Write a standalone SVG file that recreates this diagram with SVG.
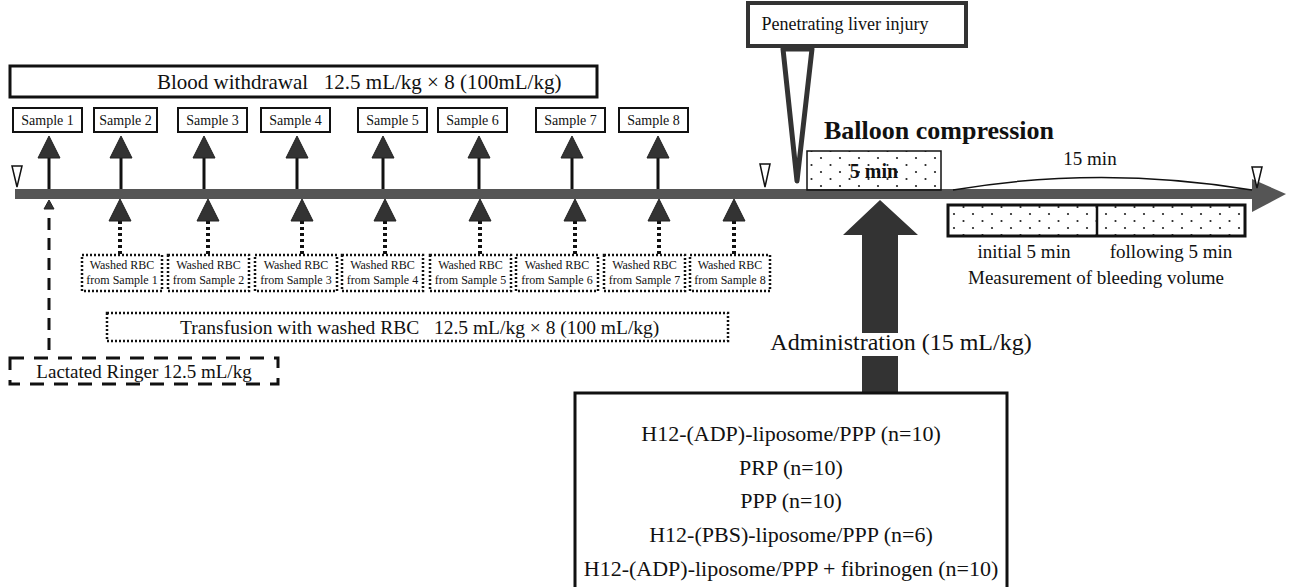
<svg xmlns="http://www.w3.org/2000/svg" width="1289" height="587" viewBox="0 0 1289 587">
<defs>
<pattern id="dots" patternUnits="userSpaceOnUse" width="19" height="14"><circle cx="4" cy="4" r="1.1" fill="#222"/><circle cx="13.5" cy="11" r="1.1" fill="#222"/></pattern>
</defs>
<style>
text{font-family:"Liberation Serif","Times New Roman",serif;fill:#111}
.box{fill:#fff;stroke:#111;stroke-width:2}
.dotbox{fill:#fff;stroke:#111;stroke-width:2.5;stroke-dasharray:2 2}
.head{fill:#333;stroke:#222;stroke-width:1}
.stem{stroke:#111;stroke-width:3}
.dstem{stroke:#111;stroke-width:4;stroke-dasharray:3 3}
.hollow{fill:#fff;stroke:#111;stroke-width:1.5}
.s{font-size:14px}
.w{font-size:12px}
.c{text-anchor:middle}
.g{font-size:22px}
</style>
<rect width="1289" height="587" fill="#fff"/>

<g id="connectors">
  <rect x="15" y="189" width="1239" height="10" fill="#555"/>
  <polygon points="1252,179 1286,194 1252,212" fill="#555"/>
  <g class="stem">
    <line x1="49" y1="157" x2="49" y2="189"/><line x1="121" y1="157" x2="121" y2="189"/>
    <line x1="204" y1="157" x2="204" y2="189"/><line x1="297" y1="157" x2="297" y2="189"/>
    <line x1="383" y1="157" x2="383" y2="189"/><line x1="479" y1="157" x2="479" y2="189"/>
    <line x1="572" y1="157" x2="572" y2="189"/><line x1="658" y1="157" x2="658" y2="189"/>
  </g>
  <g class="head">
    <polygon points="49,136 38,158 60,158"/><polygon points="121,136 110,158 132,158"/>
    <polygon points="204,136 193,158 215,158"/><polygon points="297,136 286,158 308,158"/>
    <polygon points="383,136 372,158 394,158"/><polygon points="479,136 468,158 490,158"/>
    <polygon points="572,136 561,158 583,158"/><polygon points="658,136 647,158 669,158"/>
  </g>
  <g class="dstem">
    <line x1="120" y1="221" x2="120" y2="255"/><line x1="208" y1="221" x2="208" y2="255"/>
    <line x1="302" y1="221" x2="302" y2="255"/><line x1="385" y1="221" x2="385" y2="255"/>
    <line x1="480" y1="221" x2="480" y2="255"/><line x1="575" y1="221" x2="575" y2="255"/>
    <line x1="659" y1="221" x2="659" y2="255"/><line x1="734" y1="221" x2="734" y2="255"/>
  </g>
  <g class="head">
    <polygon points="120,199 109,221 131,221"/><polygon points="208,199 197,221 219,221"/>
    <polygon points="302,199 291,221 313,221"/><polygon points="385,199 374,221 396,221"/>
    <polygon points="480,199 469,221 491,221"/><polygon points="575,199 564,221 586,221"/>
    <polygon points="659,199 648,221 670,221"/><polygon points="734,199 723,221 745,221"/>
    <polygon points="49,200 44,209 54,209"/>
  </g>
  <line x1="49" y1="218" x2="49" y2="358" stroke="#111" stroke-width="3" stroke-dasharray="12 8"/>
  <polygon class="hollow" points="12,166 22,166 17,187"/>
  <polygon class="hollow" points="760,164 770,164 765,187"/>
  <polygon class="hollow" points="1252,167 1262,167 1257,188"/>
  <polygon points="783,49 812,49 797,181" fill="#fff" stroke="#333" stroke-width="5" stroke-linejoin="round"/>
  <path d="M953,190 Q1100,165 1252,190" fill="none" stroke="#111" stroke-width="1.5"/>
  <polygon points="880,200 918,235 898,235 898,333 862,333 862,235 843,235" fill="#333"/>
  <rect x="862" y="356" width="36" height="37" fill="#333"/>
</g>

<g id="liver-injury">
  <rect x="748" y="3" width="218" height="43" fill="#fff" stroke="#333" stroke-width="4"/>
  <text x="845" y="30" class="c" style="font-size:18px">Penetrating liver injury</text>
</g>

<g id="blood-withdrawal">
  <rect x="10" y="66" width="587" height="31" fill="#fff" stroke="#111" stroke-width="3"/>
  <text x="157" y="89" style="font-size:21px" xml:space="preserve">Blood withdrawal   12.5 mL/kg × 8 (100mL/kg)</text>
</g>

<g id="samples">
  <g id="sample-1"><rect class="box" x="13" y="108" width="69" height="24"/><text class="s c" x="47.5" y="125">Sample 1</text></g>
  <g id="sample-2"><rect class="box" x="94" y="108" width="63" height="24"/><text class="s c" x="125.5" y="125">Sample 2</text></g>
  <g id="sample-3"><rect class="box" x="178" y="108" width="69" height="24"/><text class="s c" x="212.5" y="125">Sample 3</text></g>
  <g id="sample-4"><rect class="box" x="261" y="108" width="69" height="24"/><text class="s c" x="295.5" y="125">Sample 4</text></g>
  <g id="sample-5"><rect class="box" x="358" y="108" width="69" height="24"/><text class="s c" x="392.5" y="125">Sample 5</text></g>
  <g id="sample-6"><rect class="box" x="438" y="108" width="69" height="24"/><text class="s c" x="472.5" y="125">Sample 6</text></g>
  <g id="sample-7"><rect class="box" x="536" y="108" width="69" height="24"/><text class="s c" x="570.5" y="125">Sample 7</text></g>
  <g id="sample-8"><rect class="box" x="619" y="108" width="69" height="24"/><text class="s c" x="653.5" y="125">Sample 8</text></g>
</g>

<g id="washed">
  <g id="washed-1"><rect class="dotbox" x="82" y="255" width="80" height="36"/><text class="w c" x="122" y="269">Washed RBC</text><text class="w c" x="122" y="284">from Sample 1</text></g>
  <g id="washed-2"><rect class="dotbox" x="168" y="255" width="81" height="36"/><text class="w c" x="208.5" y="269">Washed RBC</text><text class="w c" x="208.5" y="284">from Sample 2</text></g>
  <g id="washed-3"><rect class="dotbox" x="255" y="255" width="82" height="36"/><text class="w c" x="296" y="269">Washed RBC</text><text class="w c" x="296" y="284">from Sample 3</text></g>
  <g id="washed-4"><rect class="dotbox" x="342" y="255" width="81" height="36"/><text class="w c" x="382.5" y="269">Washed RBC</text><text class="w c" x="382.5" y="284">from Sample 4</text></g>
  <g id="washed-5"><rect class="dotbox" x="430" y="255" width="81" height="36"/><text class="w c" x="470.5" y="269">Washed RBC</text><text class="w c" x="470.5" y="284">from Sample 5</text></g>
  <g id="washed-6"><rect class="dotbox" x="516" y="255" width="82" height="36"/><text class="w c" x="557" y="269">Washed RBC</text><text class="w c" x="557" y="284">from Sample 6</text></g>
  <g id="washed-7"><rect class="dotbox" x="604" y="255" width="81" height="36"/><text class="w c" x="644.5" y="269">Washed RBC</text><text class="w c" x="644.5" y="284">from Sample 7</text></g>
  <g id="washed-8"><rect class="dotbox" x="690" y="255" width="80" height="36"/><text class="w c" x="730" y="269">Washed RBC</text><text class="w c" x="730" y="284">from Sample 8</text></g>
</g>

<g id="transfusion">
  <rect class="dotbox" x="107" y="313" width="621" height="28"/>
  <text x="180" y="334" style="font-size:19.5px" xml:space="preserve">Transfusion with washed RBC   12.5 mL/kg × 8 (100 mL/kg)</text>
</g>

<g id="lactated-ringer">
  <rect x="10" y="358" width="268" height="26" fill="none" stroke="#111" stroke-width="3" stroke-dasharray="14 10"/>
  <text x="144" y="378" class="c" style="font-size:19px">Lactated Ringer 12.5 mL/kg</text>
</g>

<g id="balloon">
  <text x="939" y="139" class="c" style="font-size:26px;font-weight:bold">Balloon compression</text>
  <rect x="807" y="151" width="134" height="39" fill="url(#dots)" stroke="#111" stroke-width="1.5"/>
  <text x="874" y="178" class="c" style="font-size:20px;font-weight:bold">5 min</text>
</g>

<g id="fifteen-min">
  <text x="1090" y="165" class="c" style="font-size:19px">15 min</text>
</g>

<g id="measurement">
  <rect x="948" y="205" width="297" height="31" fill="url(#dots)" stroke="#111" stroke-width="3"/>
  <line x1="1097" y1="205" x2="1097" y2="236" stroke="#111" stroke-width="2.5"/>
  <text x="1024" y="258" class="c" style="font-size:19px">initial 5 min</text>
  <text x="1171" y="258" class="c" style="font-size:19px">following 5 min</text>
  <text x="1096" y="284" class="c" style="font-size:19px">Measurement of bleeding volume</text>
</g>

<g id="administration">
  <text x="901" y="350" class="c" style="font-size:24px">Administration (15 mL/kg)</text>
</g>

<g id="groups">
  <rect x="575" y="393" width="432" height="200" fill="#fff" stroke="#111" stroke-width="3"/>
  <text x="791" y="441" class="c g">H12-(ADP)-liposome/PPP (n=10)</text>
  <text x="791" y="475" class="c g">PRP (n=10)</text>
  <text x="791" y="508" class="c g">PPP (n=10)</text>
  <text x="791" y="542" class="c g">H12-(PBS)-liposome/PPP (n=6)</text>
  <text x="791" y="576" class="c g">H12-(ADP)-liposome/PPP + fibrinogen (n=10)</text>
</g>
</svg>
